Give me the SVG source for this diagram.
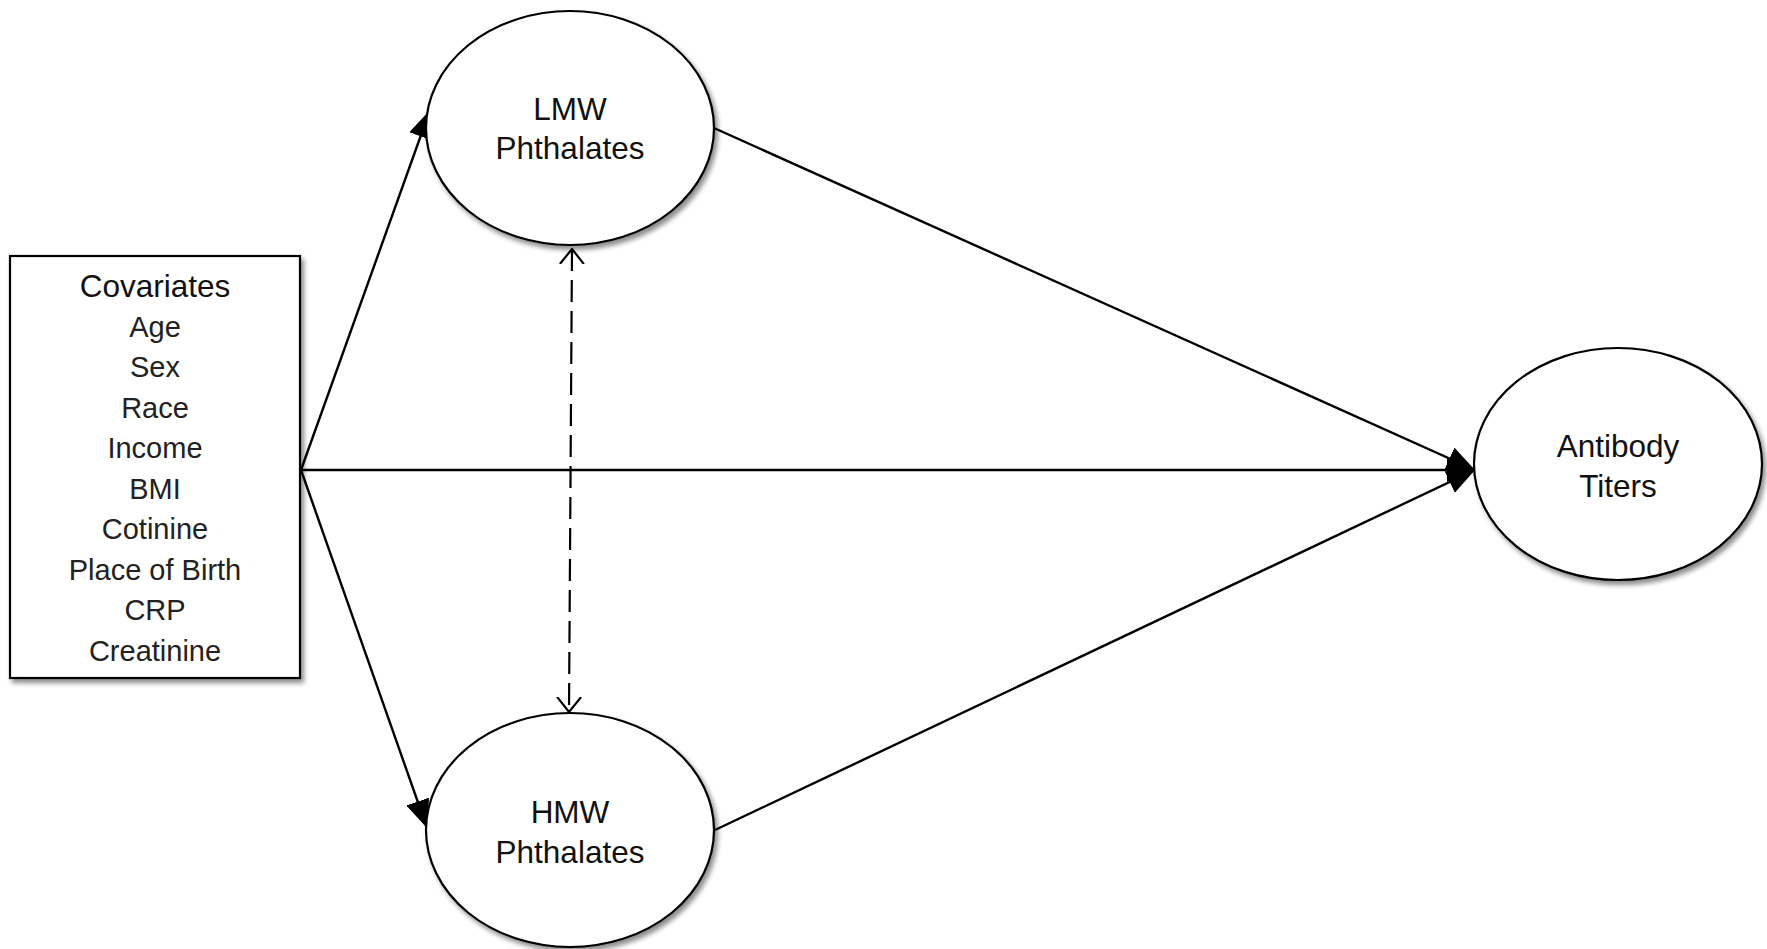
<svg xmlns="http://www.w3.org/2000/svg" width="1767" height="949" viewBox="0 0 1767 949">
<defs>
<filter id="sh" x="-10%" y="-10%" width="125%" height="125%">
<feGaussianBlur in="SourceAlpha" stdDeviation="2.5"/>
<feOffset dx="3" dy="4" result="b"/>
<feComponentTransfer><feFuncA type="linear" slope="0.45"/></feComponentTransfer>
<feMerge><feMergeNode/><feMergeNode in="SourceGraphic"/></feMerge>
</filter>
<marker id="tri" viewBox="0 0 28 24" markerWidth="28" markerHeight="24" refX="28" refY="12" orient="auto" markerUnits="userSpaceOnUse">
<path d="M0,0 L28,12 L0,24 z" fill="#000"/>
</marker>
<marker id="vee" viewBox="0 0 16 26" markerWidth="16" markerHeight="26" refX="15" refY="13" orient="auto-start-reverse" markerUnits="userSpaceOnUse">
<path d="M0,1 L15,13 L0,25" fill="none" stroke="#000" stroke-width="2.2"/>
</marker>
</defs>
<style>
.node{fill:#fff;stroke:#000;stroke-width:2.2}
.t{font-family:"Liberation Sans",Arial,sans-serif;font-size:31.5px;fill:#111;text-anchor:middle}
.tc{font-family:"Liberation Sans",Arial,sans-serif;font-size:31.5px;fill:#111;text-anchor:middle}
.tl{font-family:"Liberation Sans",Arial,sans-serif;font-size:29px;fill:#222;text-anchor:middle}
.c{fill:none;stroke:#000;stroke-width:2.4}
.d{fill:none;stroke:#000;stroke-width:2.2;stroke-dasharray:22 9}
</style>
<rect width="1767" height="949" fill="#fff"/>
<g id="connectors">
<line class="c" x1="301" y1="470" x2="430" y2="110" marker-end="url(#tri)"/>
<line class="c" x1="301" y1="470" x2="427" y2="828" marker-end="url(#tri)"/>
<line class="c" x1="301" y1="470" x2="1475" y2="470" marker-end="url(#tri)"/>
<line class="c" x1="714" y1="128" x2="1475" y2="470" marker-end="url(#tri)"/>
<line class="c" x1="715" y1="830" x2="1475" y2="470" marker-end="url(#tri)"/>
<line class="d" x1="572" y1="249" x2="569" y2="712" marker-start="url(#vee)" marker-end="url(#vee)"/>
</g>
<g id="covariates">
<rect class="node" x="10" y="256" width="290" height="422" filter="url(#sh)"/>
<text class="tc" x="155" y="297">Covariates</text>
<text class="tl" x="155" y="337">Age</text>
<text class="tl" x="155" y="377">Sex</text>
<text class="tl" x="155" y="418">Race</text>
<text class="tl" x="155" y="458">Income</text>
<text class="tl" x="155" y="499">BMI</text>
<text class="tl" x="155" y="539">Cotinine</text>
<text class="tl" x="155" y="580">Place of Birth</text>
<text class="tl" x="155" y="620">CRP</text>
<text class="tl" x="155" y="661">Creatinine</text>
</g>
<g id="lmw">
<ellipse class="node" cx="570" cy="128" rx="144" ry="117" filter="url(#sh)"/>
<text class="t" x="570" y="120">LMW</text>
<text class="t" x="570" y="159">Phthalates</text>
</g>
<g id="hmw">
<ellipse class="node" cx="570" cy="830" rx="144" ry="117" filter="url(#sh)"/>
<text class="t" x="570" y="823">HMW</text>
<text class="t" x="570" y="863">Phthalates</text>
</g>
<g id="antibody">
<ellipse class="node" cx="1618" cy="464" rx="144" ry="116" filter="url(#sh)"/>
<text class="t" x="1618" y="457">Antibody</text>
<text class="t" x="1618" y="497">Titers</text>
</g>
</svg>
